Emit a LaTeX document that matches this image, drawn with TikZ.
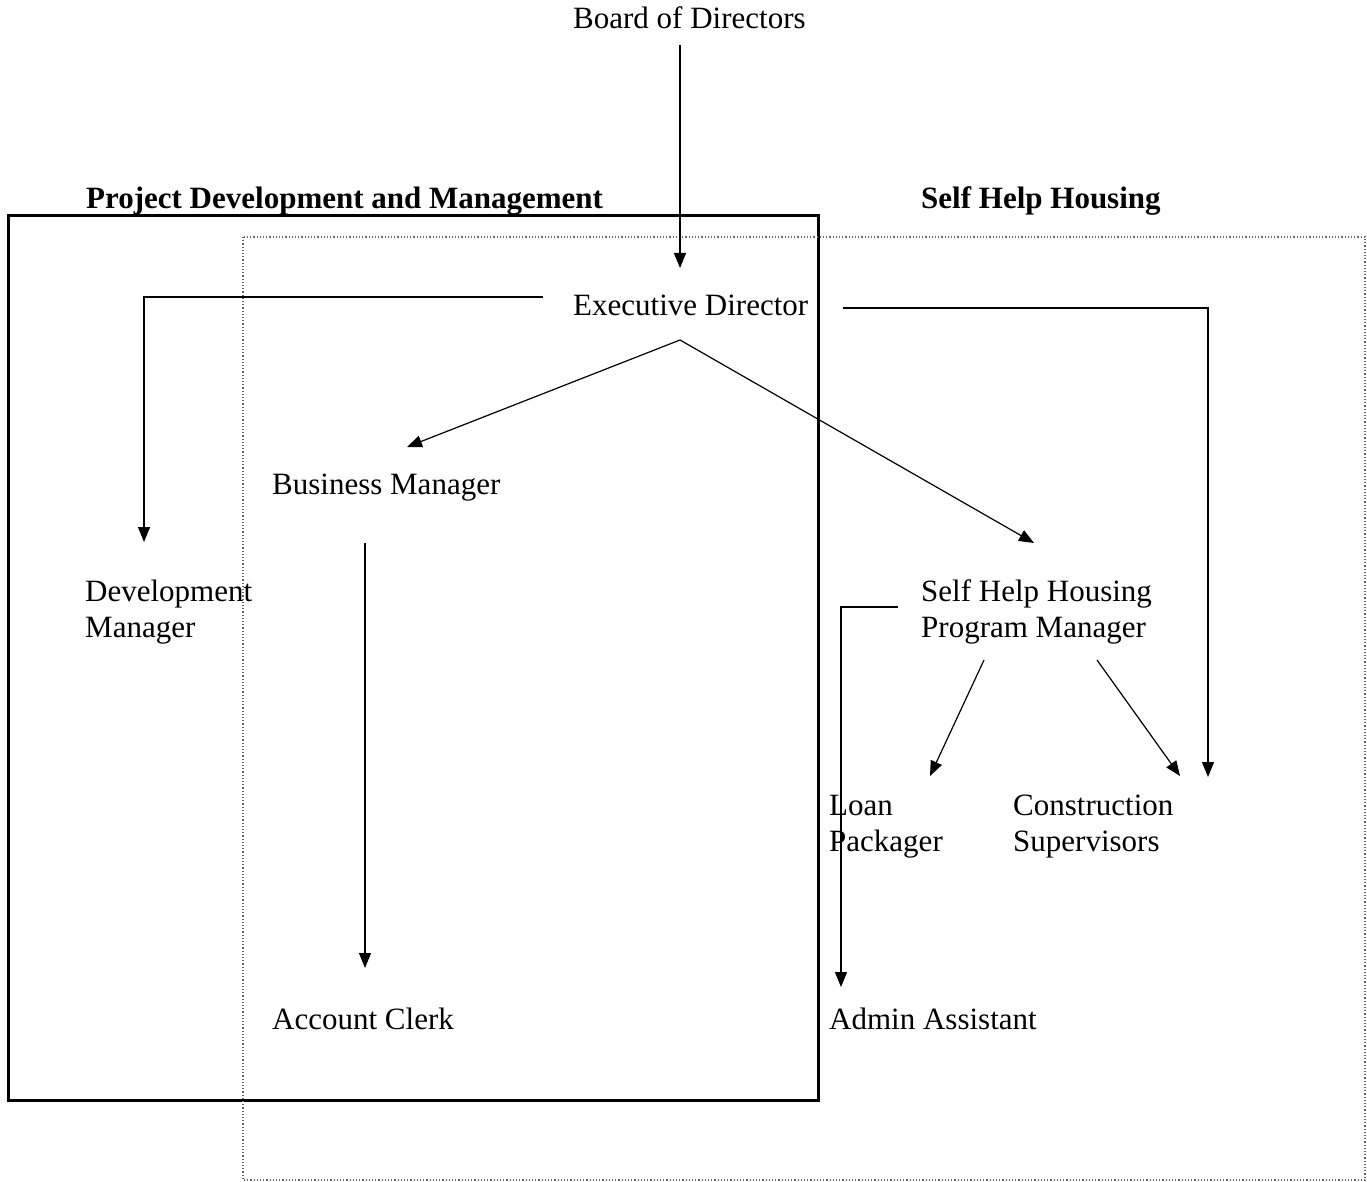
\documentclass[tikz,border=0pt]{standalone}
\usepackage{fontspec}
\setmainfont{Liberation Serif}
\usetikzlibrary{arrows.meta,calc}
\begin{document}
\begin{tikzpicture}[x=1pt,y=-1pt,
 lbl/.style={anchor=base west, inner sep=0pt, font=\fontsize{31}{36}\selectfont, align=left},
 hdr/.style={lbl, font=\fontsize{31}{36}\selectfont\bfseries},
 conn/.style={line width=1.2pt, -{Triangle[length=15pt,width=12pt]}},
 group/.style={line width=3pt},
 lane/.style={line width=1.2pt, dotted, black!60}]
\useasboundingbox (0,0) rectangle (1367,1182);
\draw[group] (8,216) rectangle (818,1100);
\draw[lane] (243,237) rectangle (1365,1180);
\node[lbl] (board) at (573,29) {Board of Directors};
\node[hdr] (pdm) at (86,209) {Project Development and Management};
\node[hdr] (shh) at (921,209) {Self Help Housing};
\node[lbl] (exec) at (573,315) {Executive Director};
\node[lbl] (bm) at (272,494) {Business Manager};
\node[lbl] (dm) at (85,637) {Development\\Manager};
\node[lbl] (pm) at (921,637) {Self Help Housing\\Program Manager};
\node[lbl] (loan) at (829,851) {Loan\\Packager};
\node[lbl] (cs) at (1013,851) {Construction\\Supervisors};
\node[lbl] (ac) at (272,1029) {Account Clerk};
\node[lbl] (aa) at (829,1029) {Admin Assistant};
\coordinate (boardOut) at (680,45);
\coordinate (execIn) at (680,268);
\coordinate (execL) at (543,297);
\coordinate (execR) at (843,308);
\coordinate (execB) at (680,340);
\coordinate (dmIn) at (144,542);
\coordinate (bmIn) at (407,447);
\coordinate (bmOut) at (365,543);
\coordinate (acIn) at (365,968);
\coordinate (pmIn) at (1034,543);
\coordinate (pmL) at (898,607);
\coordinate (pmB1) at (984,660);
\coordinate (pmB2) at (1097,660);
\coordinate (loanIn) at (930,776);
\coordinate (csIn) at (1180,776);
\coordinate (csR) at (1208,777);
\coordinate (aaIn) at (841,987);
\draw[conn] (boardOut) -- (execIn);
\draw[conn] (execL) -- (dmIn |- execL) -- (dmIn);
\draw[conn] (execR) -- (csR |- execR) -- (csR);
\draw[conn] (execB) -- (bmIn);
\draw[conn] (execB) -- (pmIn);
\draw[conn] (bmOut) -- (acIn);
\draw[conn] (pmL) -- (aaIn |- pmL) -- (aaIn);
\draw[conn] (pmB1) -- (loanIn);
\draw[conn] (pmB2) -- (csIn);
\end{tikzpicture}
\end{document}
